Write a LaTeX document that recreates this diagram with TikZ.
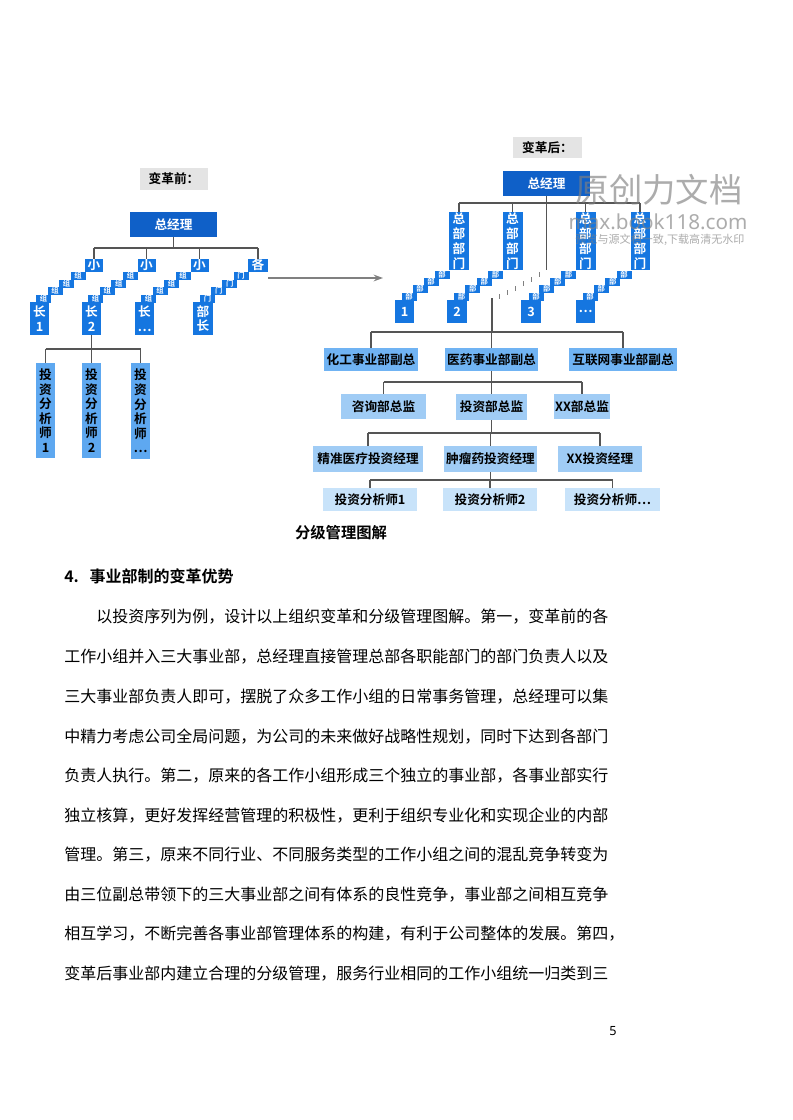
\documentclass[tikz,border=0pt]{standalone}
\usepackage{fontspec}
\setmainfont{Noto Sans CJK SC}[BoldFont={Noto Sans CJK SC Bold}]
\newfontfamily\latinsans{Noto Sans}
\usetikzlibrary{arrows.meta}
\definecolor{dkblue}{HTML}{0F60C8}
\definecolor{stepblue}{HTML}{1576E0}
\definecolor{anblue}{HTML}{5EA8F0}
\definecolor{vpblue}{HTML}{70B3F3}
\definecolor{dirblue}{HTML}{A0CCF5}
\definecolor{asblue}{HTML}{C8E3FA}
\definecolor{linegray}{HTML}{555555}
\definecolor{lblgray}{HTML}{E4E4E4}
\newcommand\mystairs[6]{%
  \foreach \i in {0,1,2,3}{%
    \node[stairbox] (#1-\i) at ({#2+(#4-#2)*\i/3},{#3+(#5-#3)*\i/3}) {#6};
  }}
\begin{document}
\begin{tikzpicture}[x=0.75pt,y=-0.75pt,
  sz/.style 2 args={minimum width=#1*0.75pt, minimum height=#2*0.75pt},
  box/.style={inner sep=0pt, outer sep=0pt, align=center, font=\bfseries\fontsize{9.5}{10.9}\selectfont},
  dk/.style={box, fill=dkblue, text=white},
  grp/.style={box, fill=stepblue, text=white},
  tall/.style={box, fill=stepblue, text=white, font=\bfseries\fontsize{9.5}{11.25}\selectfont},
  stairbox/.style={fill=stepblue, inner sep=0pt, outer sep=0pt, minimum width=11.25pt, minimum height=6pt, text=white, font=\bfseries\fontsize{5.5}{5.5}\selectfont},
  an/.style={box, fill=anblue, text=black},
  vp/.style={box, fill=vpblue, text=black},
  dir/.style={box, fill=dirblue, text=black},
  as/.style={box, fill=asblue, text=black},
  lbl/.style={box, fill=lblgray, text=black, font=\bfseries\fontsize{9.5}{10}\selectfont},
  conn/.style={draw=linegray, line width=0.8pt},
  para/.style={anchor=west, inner sep=0pt, font=\fontsize{12}{12}\selectfont},
  wm/.style={text=gray, opacity=0.65, inner sep=0pt}
]
\useasboundingbox (0,0) rectangle (792,1120);
\fill[white] (0,0) rectangle (792,1120);

% ---------------- left chart (before) ----------------
\node[lbl, sz={68}{21}] (lbl1) at (174,179) {变革前：};
\node[dk, sz={87}{25}] (gm1) at (173.5,224.5) {总经理};

\node[grp, sz={18}{13}] (L1top) at (94,265) {小};
\node[grp, sz={18}{13}] (L2top) at (146.5,265) {小};
\node[grp, sz={18}{13}] (L3top) at (199.5,265) {小};
\node[grp, sz={20}{13}] (L4top) at (258,265) {各};

\mystairs{s1}{78}{276}{43.5}{298.5}{组}
\mystairs{s2}{130.5}{276}{95.5}{298.5}{组}
\mystairs{s3}{183}{276}{148.5}{298.5}{组}
\mystairs{s4}{241}{276}{207.5}{298.5}{门}

\node[grp, sz={19}{33}] (L1bot) at (39.5,318.5) {长\\1};
\node[grp, sz={19}{33}] (L2bot) at (91.5,318.5) {长\\2};
\node[grp, sz={19}{33}] (L3bot) at (144.5,318.5) {长\\…};
\node[grp, sz={20}{33}] (L4bot) at (203,318.5) {部\\长};

\coordinate (b1) at (173.5,248);
\draw[conn] (gm1.south) -- (b1);
\draw[conn] (L1top.north |- b1) -- (L4top.north |- b1);
\foreach \n in {L1top,L2top,L3top,L4top} \draw[conn] (\n.north |- b1) -- (\n.north);

\node[an, sz={19}{95}] (A1) at (45.5,410.5) {投\\资\\分\\析\\师\\1};
\node[an, sz={19}{95}] (A2) at (91.5,410.5) {投\\资\\分\\析\\师\\2};
\node[an, sz={19}{96}] (A3) at (140.5,411) {投\\资\\分\\析\\师\\…};
\coordinate (b2) at (91.5,349);
\draw[conn] (L2bot.south) -- (b2);
\draw[conn] (A1.north |- b2) -- (A3.north |- b2);
\foreach \n in {A1,A2,A3} \draw[conn] (\n.north |- b2) -- (\n.north);

% arrow between charts
\coordinate (arrS) at (268,278);
\coordinate (arrE) at (383,278);
\draw[draw=gray, line width=1.5pt, -{Stealth[length=7pt,width=5pt]}] (arrS) -- (arrE);

% ---------------- right chart (after) ----------------
\node[lbl, sz={69}{21}] (lbl2) at (547.5,147.5) {变革后：};
\node[dk, sz={87}{25}] (gm2) at (546.5,183.5) {总经理};

\node[tall, sz={20}{58}] (R1) at (459,241) {总\\部\\部\\门};
\node[tall, sz={20}{58}] (R2) at (512.5,241) {总\\部\\部\\门};
\node[tall, sz={20}{58}] (R3) at (585.5,241) {总\\部\\部\\门};
\node[tall, sz={19}{58}] (R4) at (640,241) {总\\部\\部\\门};

\coordinate (b3) at (546.5,203);
\draw[conn] (R1.north |- b3) -- (R4.north |- b3);
\foreach \n in {R1,R2,R3,R4} \draw[conn] (\n.north |- b3) -- (\n.north);
\coordinate (stemA) at (546.5,270);
\draw[conn] (gm2.south) -- (stemA);
\foreach \xx/\yy in {539/272,531/277,523/281,515/286,507/290,499/294}
  \draw[draw=gray, line width=0.6pt] (\xx,\yy) -- ++(0,5);

\mystairs{r1}{442}{274.5}{409}{296.5}{部}
\mystairs{r2}{495.5}{274.5}{461.5}{296.5}{部}
\mystairs{r3}{568.5}{274.5}{536}{296.5}{部}
\mystairs{r4}{624}{274.5}{590}{296.5}{部}

\node[grp, sz={19}{23}] (Rb1) at (404.5,311.5) {1};
\node[grp, sz={20}{23}] (Rb2) at (457,311.5) {2};
\node[grp, sz={20}{23}] (Rb3) at (531,311.5) {3};
\node[grp, sz={19}{23}] (Rb4) at (585.5,311.5) {…};

\node[vp, sz={94}{23}] (V1) at (371,359.5) {化工事业部副总};
\node[vp, sz={93}{23}] (V2) at (491.5,359.5) {医药事业部副总};
\node[vp, sz={108}{23}] (V3) at (623,359.5) {互联网事业部副总};

\coordinate (stemB) at (492,298);
\coordinate (b4) at (492,332);
\draw[conn] (stemB) -- (b4);
\draw[conn] (V1.north |- b4) -- (V3.north |- b4);
\foreach \n in {V1,V2,V3} \draw[conn] (\n.north |- b4) -- (\n.north);

\node[dir, sz={85}{25}] (D1) at (383.5,406.5) {咨询部总监};
\node[dir, sz={71}{26}] (D2) at (491.5,407) {投资部总监};
\node[dir, sz={56}{25}] (D3) at (582,406.5) {XX部总监};
\coordinate (b5) at (491.5,382);
\draw[conn] (V2.south) -- (b5);
\draw[conn] (D1.north |- b5) -- (D3.north |- b5);
\foreach \n in {D1,D2,D3} \draw[conn] (\n.north |- b5) -- (\n.north);

\node[dir, sz={110}{26}] (M1) at (368,459) {精准医疗投资经理};
\node[dir, sz={93}{26}] (M2) at (490.5,459) {肿瘤药投资经理};
\node[dir, sz={84}{26}] (M3) at (600,459) {XX投资经理};
\coordinate (b6) at (491.5,433);
\draw[conn] (D2.south) -- (b6);
\draw[conn] (M1.north |- b6) -- (M3.north |- b6);
\foreach \n in {M1,M2,M3} \draw[conn] (\n.north |- b6) -- (\n.north);

\node[as, sz={94}{23}] (N1) at (370,499.5) {投资分析师1};
\node[as, sz={94}{23}] (N2) at (490,499.5) {投资分析师2};
\node[as, sz={95}{23}] (N3) at (612.5,499.5) {投资分析师…};
\coordinate (b7) at (490.5,480);
\draw[conn] (M2.south) -- (b7);
\draw[conn] (N1.north |- b7) -- (N3.north |- b7);
\foreach \n in {N1,N2,N3} \draw[conn] (\n.north |- b7) -- (\n.north);

% ---------------- caption and text ----------------
\node[inner sep=0pt, font=\bfseries\fontsize{11.5}{12}\selectfont] (cap) at (341,533) {分级管理图解};
\node[para, font=\bfseries\fontsize{12}{12}\selectfont] (head) at (64,576) {4.\hspace*{8pt}事业部制的变革优势};

\node[para] (p1) at (96,617) {以投资序列为例，设计以上组织变革和分级管理图解。第一，变革前的各};
\node[para] (p2) at (64,657) {工作小组并入三大事业部，总经理直接管理总部各职能部门的部门负责人以及};
\node[para] (p3) at (64,697) {三大事业部负责人即可，摆脱了众多工作小组的日常事务管理，总经理可以集};
\node[para] (p4) at (64,736.5) {中精力考虑公司全局问题，为公司的未来做好战略性规划，同时下达到各部门};
\node[para] (p5) at (64,776) {负责人执行。第二，原来的各工作小组形成三个独立的事业部，各事业部实行};
\node[para] (p6) at (64,815.5) {独立核算，更好发挥经营管理的积极性，更利于组织专业化和实现企业的内部};
\node[para] (p7) at (64,855) {管理。第三，原来不同行业、不同服务类型的工作小组之间的混乱竞争转变为};
\node[para] (p8) at (64,894.5) {由三位副总带领下的三大事业部之间有体系的良性竞争，事业部之间相互竞争};
\node[para] (p9) at (64,934) {相互学习，不断完善各事业部管理体系的构建，有利于公司整体的发展。第四，};
\node[para] (p10) at (64,973.5) {变革后事业部内建立合理的分级管理，服务行业相同的工作小组统一归类到三};

\node[inner sep=0pt, font=\latinsans\fontsize{9.5}{10}\selectfont] (pg) at (613,1031) {5};

% ---------------- watermark ----------------
\node[wm, font=\fontsize{25}{25}\selectfont] (wm1) at (659,190) {原创力文档};
\node[wm, font=\latinsans\fontsize{15.5}{16}\selectfont] (wm2) at (658,222) {max.book118.com};
\node[wm, font=\fontsize{8.3}{9}\selectfont] (wm3) at (660,240) {预览与源文档一致,下载高清无水印};
\end{tikzpicture}
\end{document}
